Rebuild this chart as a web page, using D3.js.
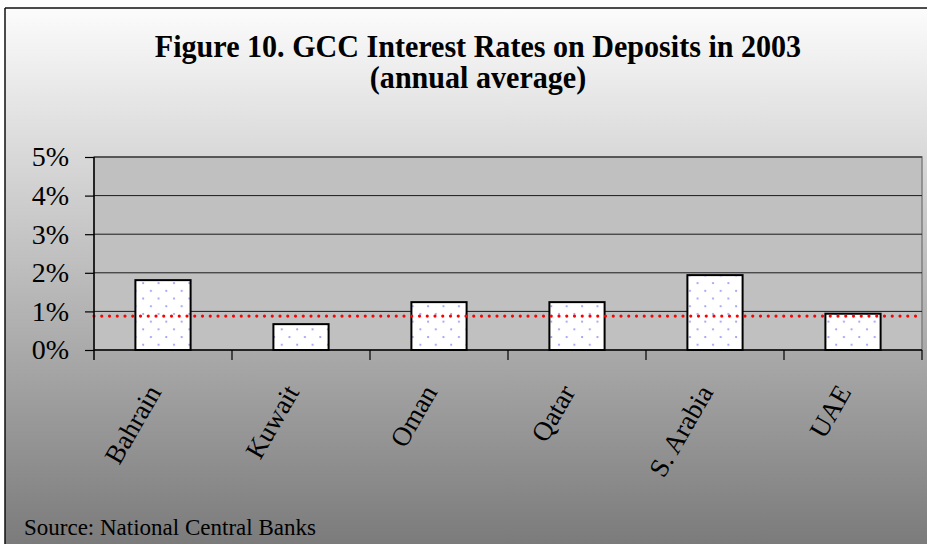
<!DOCTYPE html>
<html>
<head>
<meta charset="utf-8">
<script src="https://cdn.jsdelivr.net/npm/d3@7"></script>
<style>
  html, body { margin: 0; padding: 0; background: #fff; }
  svg { display: block; }
</style>
</head>
<body>
<svg id="chart" width="927" height="544"></svg>
<script>
// GCC deposit rates, 2003 annual average (%)
const countries = ["Bahrain", "Kuwait", "Oman", "Qatar", "S. Arabia", "UAE"];
const rates = [1.81, 0.67, 1.24, 1.24, 1.94, 0.94];
const referenceRate = [0.88];
const yTicks = [0, 1, 2, 3, 4, 5];
const titleLines = ["Figure 10. GCC Interest Rates on Deposits in 2003", "(annual average)"];
const sourceNote = ["Source: National Central Banks"];

const svg = d3.select("#chart");
const W = 927, H = 544;
const margin = { left: 94, right: 5, top: 157, bottom: 194 };
const plotW = W - margin.left - margin.right;
const plotH = H - margin.top - margin.bottom;
const serif = "'Liberation Serif', 'Times New Roman', serif";

const defs = svg.append("defs");
const bg = defs.append("linearGradient").attr("id", "bg").attr("x1", 0).attr("y1", 0).attr("x2", 0).attr("y2", 1);
bg.append("stop").attr("offset", "0%").attr("stop-color", "#fcfcfc");
bg.append("stop").attr("offset", "100%").attr("stop-color", "#7b7b7b");

const pat = defs.append("pattern").attr("id", "dots").attr("patternUnits", "userSpaceOnUse")
  .attr("width", 15.4).attr("height", 15.4);
pat.append("rect").attr("width", 15.4).attr("height", 15.4).attr("fill", "#ffffff");
pat.append("circle").attr("cx", 3).attr("cy", 3).attr("r", 1.1).attr("fill", "#9c9cf2");
pat.append("circle").attr("cx", 10.7).attr("cy", 10.7).attr("r", 1.1).attr("fill", "#9c9cf2");

// Background frame
svg.append("rect").attr("x", 0).attr("y", 0).attr("width", W).attr("height", H).attr("fill", "#ffffff");
svg.append("rect").attr("x", 5).attr("y", 8).attr("width", W - 5).attr("height", H - 8).attr("fill", "url(#bg)");
svg.append("line").attr("x1", 5).attr("x2", 5).attr("y1", 8).attr("y2", H).attr("stroke", "#111").attr("stroke-width", 1.5);
svg.append("line").attr("x1", 5).attr("x2", W).attr("y1", 8).attr("y2", 8).attr("stroke", "#111").attr("stroke-width", 1.5);

// Title (slightly condensed bold serif)
const title = svg.append("text").attr("transform", "translate(478,0) scale(0.94,1)")
  .attr("font-family", serif).attr("font-weight", "bold").attr("font-size", 32)
  .attr("text-anchor", "middle").attr("fill", "#000");
titleLines.forEach((t, i) => title.append("tspan").attr("x", 0).attr("y", 57.5 + i * 30.5).text(t));

const g = svg.append("g").attr("transform", `translate(${margin.left},${margin.top})`);

const x = d3.scaleBand().domain(countries).range([0, plotW]).paddingInner(0.6).paddingOuter(0.3);
const xOuter = d3.scaleBand().domain(countries).range([0, plotW]);
const y = d3.scaleLinear().domain([0, 5]).range([plotH, 0]);

// Plot area
g.append("rect").attr("width", plotW).attr("height", plotH).attr("fill", "#c0c0c0")
  .attr("stroke", "#808080").attr("stroke-width", 1.5);

// Gridlines
g.selectAll(".grid").data(yTicks.filter(d => d > 0)).join("line")
  .attr("x1", 0).attr("x2", plotW).attr("y1", d => y(d)).attr("y2", d => y(d))
  .attr("stroke", "#1a1a1a").attr("stroke-width", 1);

// Bars
g.selectAll(".bar").data(rates).join("rect")
  .attr("x", (d, i) => x(countries[i]))
  .attr("width", x.bandwidth())
  .attr("y", d => y(d))
  .attr("height", d => y(0) - y(d))
  .attr("fill", "url(#dots)")
  .attr("stroke", "#000").attr("stroke-width", 2);

// Reference line (dotted red)
g.selectAll(".ref").data(referenceRate).join("line")
  .attr("x1", 0).attr("x2", plotW).attr("y1", d => y(d)).attr("y2", d => y(d))
  .attr("stroke", "#ff0000").attr("stroke-width", 3.2)
  .attr("stroke-linecap", "round").attr("stroke-dasharray", "0 7.75");

// Y axis
const yAxis = g.append("g").call(d3.axisLeft(y).tickValues(yTicks).tickFormat(d => d + "%").tickSize(9).tickPadding(16));
yAxis.select(".domain").attr("stroke", "#000").attr("stroke-width", 1.5).attr("d", `M0,0V${plotH + 10}`);
yAxis.selectAll(".tick line").attr("stroke", "#000").attr("stroke-width", 1.2);
yAxis.selectAll("text").attr("font-family", serif).attr("font-size", 28).attr("fill", "#000");

// X axis: ticks at category boundaries
const xAxisG = g.append("g").attr("transform", `translate(0,${plotH})`);
xAxisG.append("line").attr("x1", 0).attr("x2", plotW).attr("stroke", "#000").attr("stroke-width", 1.5);
xAxisG.selectAll(".xtick").data(countries).join("line")
  .attr("x1", d => xOuter(d) + xOuter.bandwidth())
  .attr("x2", d => xOuter(d) + xOuter.bandwidth())
  .attr("y1", 0).attr("y2", 10).attr("stroke", "#000").attr("stroke-width", 1.2);

xAxisG.selectAll(".xlabel").data(countries).join("text")
  .attr("transform", d => `translate(${xOuter(d) + xOuter.bandwidth() / 2 - 1},${42}) rotate(-60)`)
  .attr("text-anchor", "end")
  .attr("font-family", serif).attr("font-size", 27).attr("fill", "#000")
  .text(d => d);

// Source note
svg.selectAll(".src").data(sourceNote).join("text")
  .attr("x", 24).attr("y", 535).attr("font-family", serif).attr("font-size", 23).attr("fill", "#000")
  .text(d => d);
</script>
</body>
</html>
